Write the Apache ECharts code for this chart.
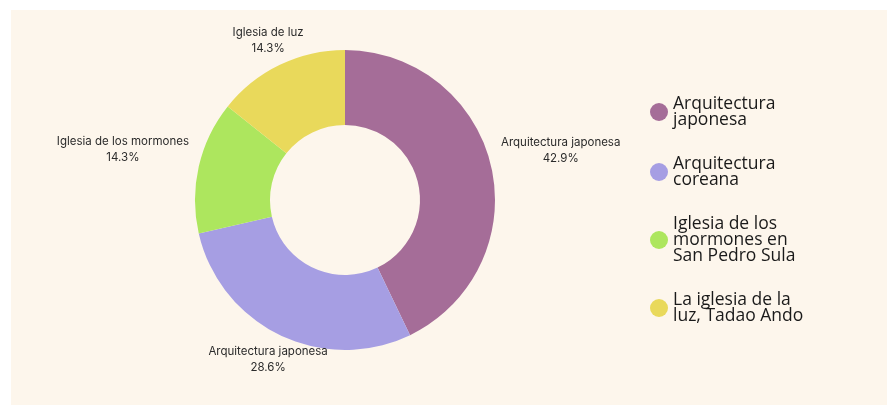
<!DOCTYPE html>
<html>
<head>
<meta charset="utf-8">
<script src="https://cdn.jsdelivr.net/npm/echarts@6/dist/echarts.min.js"></script>
<style>
  html, body { margin: 0; padding: 0; background: #ffffff; }
  #chart { position: absolute; left: 11px; top: 10px; width: 876px; height: 395px; background: #FDF6EC; }
</style>
</head>
<body>
<div id="chart"></div>
<script>
// ---- data ----
const legendNames = [
  'Arquitectura japonesa',
  'Arquitectura coreana',
  'Iglesia de los mormones en San Pedro Sula',
  'La iglesia de la luz, Tadao Ando'
];
const legendLines = [
  ['Arquitectura', 'japonesa'],
  ['Arquitectura', 'coreana'],
  ['Iglesia de los', 'mormones en', 'San Pedro Sula'],
  ['La iglesia de la', 'luz, Tadao Ando']
];
const labelNames = [
  'Arquitectura japonesa',
  'Arquitectura japonesa',
  'Iglesia de los mormones',
  'Iglesia de luz'
];
const values = [3, 2, 1, 1];
const colors = ['#A56D98', '#A69EE3', '#ADE65E', '#E9D95B'];

// ---- layout ----
const CX = 334, CY = 190, R0 = 75, R = 150, GAP = 10;
const total = values.reduce((a, b) => a + b, 0);

const chart = echarts.init(document.getElementById('chart'), null, { renderer: 'canvas' });
chart.setOption({
  backgroundColor: 'transparent',
  color: colors,
  legend: {
    orient: 'vertical',
    left: 634,
    top: 80,
    itemGap: 26,
    icon: 'circle',
    itemWidth: 18,
    itemHeight: 18,
    data: legendNames,
    formatter: function (name) {
      return legendLines[legendNames.indexOf(name)].map(s => '{t|' + s + '}').join('\n');
    },
    textStyle: {
      fontFamily: 'Open Sans', fontSize: 17.5, color: '#1a1a1a',
      rich: { t: { fontFamily: 'Open Sans', fontSize: 17.5, lineHeight: 16, color: '#1a1a1a' } }
    }
  },
  series: [{
    type: 'pie',
    center: [CX, CY],
    radius: [R0, R],
    startAngle: 90,
    clockwise: true,
    avoidLabelOverlap: false,
    silent: true,
    data: legendNames.map((n, i) => ({ name: n, value: values[i] })),
    label: {
      show: true,
      position: 'outside',
      formatter: function (p) { return labelNames[p.dataIndex] + '\n' + p.percent.toFixed(1) + '%'; },
      fontFamily: 'Inter',
      fontSize: 11.5,
      lineHeight: 15.5,
      color: '#2b2b2b'
    },
    labelLine: { show: false },
    labelLayout: function (params) {
      const i = params.dataIndex;
      let before = 0;
      for (let j = 0; j < i; j++) before += values[j];
      const mid = (before + values[i] / 2) / total * Math.PI * 2;
      const dx = Math.sin(mid), dy = -Math.cos(mid);
      const w = params.labelRect.width, h = params.labelRect.height;
      const tx = Math.abs(dx) > 1e-6 ? (w / 2) / Math.abs(dx) : Infinity;
      const ty = Math.abs(dy) > 1e-6 ? (h / 2) / Math.abs(dy) : Infinity;
      const d = R + GAP + Math.min(tx, ty);
      return { x: CX + dx * d, y: CY + dy * d, align: 'center', verticalAlign: 'middle' };
    }
  }]
});
</script>
</body>
</html>
